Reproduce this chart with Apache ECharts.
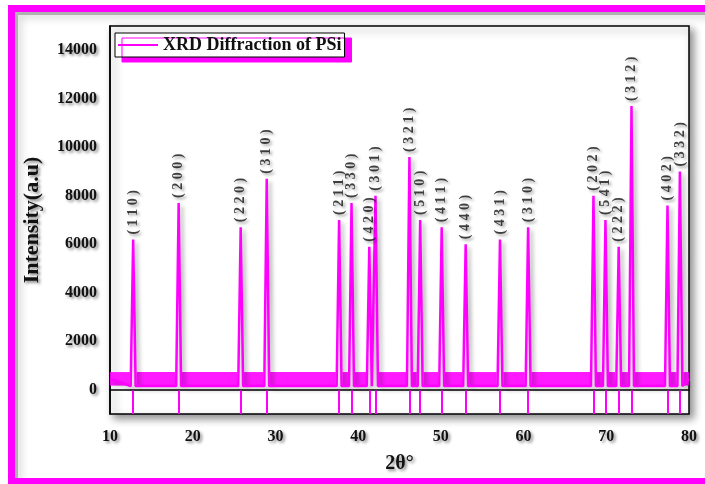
<!DOCTYPE html>
<html>
<head>
<meta charset="utf-8">
<title>XRD Diffraction of PSi</title>
<script src="https://cdn.jsdelivr.net/npm/echarts@6/dist/echarts.min.js"></script>
<style>
  html, body { margin: 0; padding: 0; background: #fff; }
  #chart { width: 705px; height: 484px; }
</style>
</head>
<body>
<div id="chart"></div>
<script>
// peak positions (2θ), intensities and Miller indices
var peakPos = [12.8, 18.3, 25.8, 28.95, 37.7, 39.2, 41.35, 42.1, 46.2, 47.5,
               50.1, 53.0, 57.15, 60.55, 68.45, 69.9, 71.5, 73.05, 77.4, 78.9];
var peakVal = [6200, 7700, 6700, 8700, 7000, 7700, 5900, 8000, 9600, 7000,
               6700, 6000, 6200, 6700, 8000, 7000, 5900, 11700, 7600, 9000];
var peakHkl = ['110', '200', '220', '310', '211', '330', '420', '301', '321', '510',
               '411', '440', '431', '310', '202', '541', '222', '312', '402', '332'];

// background noise band (low / high edge) and the stretches of 2θ where it shows
var noiseBand = [170, 730];
var noiseRanges = [[10, 12.4], [13.2, 17.9], [18.7, 25.4], [26.2, 28.55], [29.35, 37.3],
                   [38.1, 38.8], [39.6, 40.95], [42.5, 45.8], [46.6, 47.1], [47.9, 49.7],
                   [50.5, 52.6], [53.4, 56.75], [57.55, 60.15], [60.95, 68.05], [68.85, 69.5],
                   [70.3, 71.1], [71.9, 72.65], [73.45, 77.0], [77.8, 78.5], [79.3, 80]];
var footVal = 150;

// reference stick pattern below the trace
var stickRange = [-1000, -30];

var xTicks = [10, 20, 30, 40, 50, 60, 70, 80];
var yTicks = [0, 2000, 4000, 6000, 8000, 10000, 12000, 14000];

var MAG = '#ff00ff';
var FONT = '"Liberation Serif", "Times New Roman", serif';
var txtShadow = {
    textShadowColor: 'rgba(0,0,0,0.45)',
    textShadowBlur: 3,
    textShadowOffsetX: 2,
    textShadowOffsetY: 2
};

var chart = echarts.init(document.getElementById('chart'));

// spectrum trace: narrow spikes standing on the noise band
var traceData = [[10, 450]];
for (var i = 0; i < peakPos.length; i++) {
    traceData.push([peakPos[i] - 0.3, footVal]);
    traceData.push([peakPos[i], peakVal[i]]);
    traceData.push([peakPos[i] + 0.3, footVal]);
}
traceData.push([80, 450]);

var bandAreas = [];
for (var j = 0; j < noiseRanges.length; j++) {
    bandAreas.push([
        { coord: [noiseRanges[j][0], noiseBand[0]] },
        { coord: [noiseRanges[j][1], noiseBand[1]] }
    ]);
}

var stickLines = [];
var labelData = [];
for (var k = 0; k < peakPos.length; k++) {
    stickLines.push([
        { coord: [peakPos[k], stickRange[0]] },
        { coord: [peakPos[k], stickRange[1]] }
    ]);
    labelData.push({
        value: [peakPos[k], peakVal[k]],
        hkl: '( ' + peakHkl[k].split('').join(' ') + ' )'
    });
}

var option = {
    animation: false,
    graphic: [
        {
            type: 'polyline',
            shape: { points: [[16, 481], [16, 13], [720, 13]] },
            style: {
                fill: null, stroke: 'rgba(120,120,120,0.5)', lineWidth: 4,
                shadowBlur: 8, shadowColor: 'rgba(0,0,0,0.5)', shadowOffsetX: 2, shadowOffsetY: 2
            },
            z: 0
        },
        {
            type: 'rect',
            shape: { x: 11.5, y: 8.5, width: 720, height: 473 },
            style: { fill: null, stroke: MAG, lineWidth: 7 },
            z: 1
        }
    ],
    grid: {
        left: 110, top: 26, right: 16, bottom: 70,
        show: true,
        backgroundColor: '#fff',
        borderColor: '#000',
        borderWidth: 1.5,
        shadowColor: 'rgba(0,0,0,0.45)',
        shadowBlur: 8,
        shadowOffsetX: 4,
        shadowOffsetY: 4
    },
    legend: {
        left: 115, top: 33,
        data: [{ name: 'XRD Diffraction of PSi', icon: 'rect' }],
        itemWidth: 40, itemHeight: 2, itemGap: 6,
        padding: [3, 3, 3, 3],
        backgroundColor: '#fff',
        borderColor: '#000',
        borderWidth: 1,
        shadowColor: MAG,
        shadowBlur: 0,
        shadowOffsetX: 7,
        shadowOffsetY: 5,
        textStyle: { fontFamily: FONT, fontWeight: 'bold', fontSize: 18, color: '#111' }
    },
    xAxis: {
        type: 'value', min: 10, max: 80, interval: 10,
        name: '2θ°', nameLocation: 'middle', nameGap: 40,
        nameTextStyle: Object.assign({ fontFamily: FONT, fontWeight: 'bold', fontSize: 20, color: '#111' }, txtShadow),
        axisLine: { lineStyle: { color: '#000', width: 1.5 } },
        axisTick: { show: false },
        splitLine: { show: false },
        axisLabel: Object.assign({
            margin: 15, fontFamily: FONT, fontWeight: 'bold', fontSize: 16, color: '#111',
            formatter: function (v) { return xTicks.indexOf(v) >= 0 ? String(v) : ''; }
        }, txtShadow)
    },
    yAxis: {
        type: 'value', min: -1000, max: 15000, interval: 1000,
        name: 'Intensity(a.u)', nameLocation: 'middle', nameGap: 67,
        nameTextStyle: Object.assign({ fontFamily: FONT, fontWeight: 'bold', fontSize: 22, color: '#111' }, txtShadow),
        axisLine: { lineStyle: { color: '#000', width: 1.5 } },
        axisTick: { show: false },
        splitLine: { show: false },
        axisLabel: Object.assign({
            margin: 13, fontFamily: FONT, fontWeight: 'bold', fontSize: 16, color: '#111',
            formatter: function (v) { return yTicks.indexOf(v) >= 0 ? String(v) : ''; }
        }, txtShadow)
    },
    series: [
        {
            name: 'XRD Diffraction of PSi',
            type: 'line',
            data: traceData,
            symbol: 'none',
            color: MAG,
            lineStyle: {
                color: MAG, width: 2.5,
                shadowColor: 'rgba(0,0,0,0.3)', shadowBlur: 4, shadowOffsetX: 3, shadowOffsetY: 3
            },
            markArea: {
                silent: true,
                itemStyle: { color: MAG, opacity: 0.9 },
                label: { show: false },
                data: bandAreas
            },
            markLine: {
                silent: true,
                symbol: ['none', 'none'],
                label: { show: false },
                lineStyle: { color: MAG, width: 2, type: 'solid' },
                data: stickLines
            },
            z: 3
        },
        {
            name: 'hkl',
            type: 'scatter',
            data: labelData,
            symbolSize: 0,
            silent: true,
            label: Object.assign({
                show: true,
                position: 'top',
                distance: 5,
                rotate: 90,
                align: 'left',
                verticalAlign: 'middle',
                fontFamily: FONT,
                fontWeight: 'bold',
                fontSize: 14,
                color: '#111',
                formatter: function (p) { return p.data.hkl; }
            }, txtShadow),
            z: 4
        }
    ]
};

chart.setOption(option);
</script>
</body>
</html>
